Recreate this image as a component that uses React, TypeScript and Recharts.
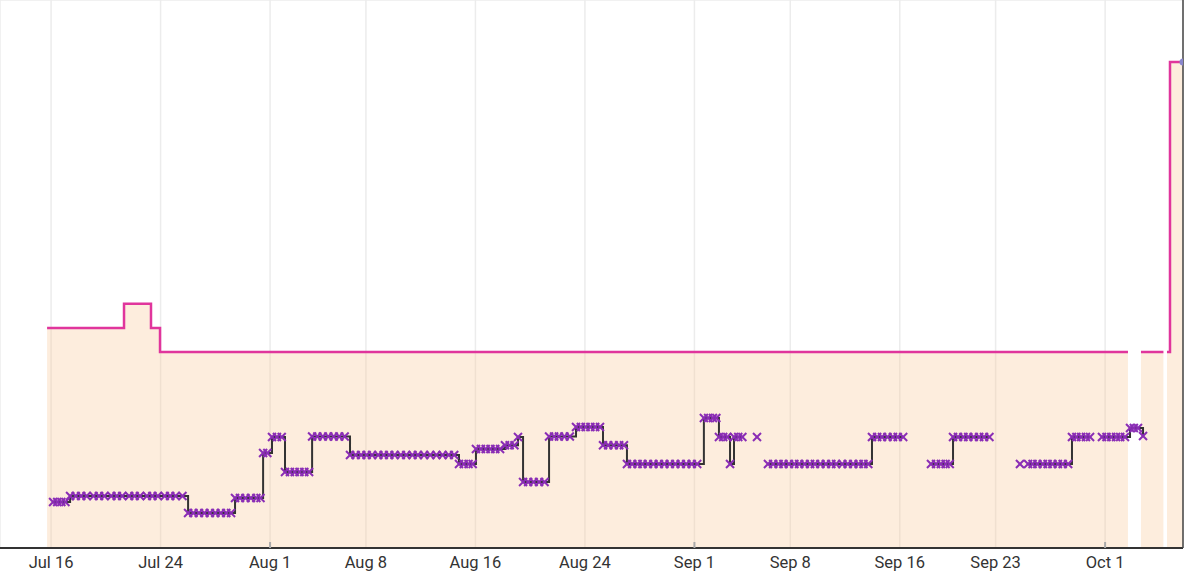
import { ComposedChart, Area, Line, XAxis, YAxis, CartesianGrid } from "recharts";

// days counted from Jul 16
const tickDays = [0, 8, 16, 23, 31, 39, 47, 54, 62, 69, 77];
const tickLabels = ["Jul 16", "Jul 24", "Aug 1", "Aug 8", "Aug 16", "Aug 24", "Sep 1", "Sep 8", "Sep 16", "Sep 23", "Oct 1"];
const monthStarts = [16, 47, 77];
const priceTicks = [10, 20, 30, 40];

// list price (pink step + shaded area)
const listDays = [-0.29, 5.33, 7.3, 7.96, 78.67, 78.7, 79.62, 81.26, 81.3, 81.52, 81.74, 82.69];
const listPrices = [18.1, 20.1, 18.1, 16.13, 16.13, null, 16.13, 16.13, null, 16.13, 40.0, 40.0];

// third-party offers (observation day, price)
const offerObs: [number, number | null][] = [
  [0.15, 3.79], [0.45, 3.79], [0.75, 3.79], [1.05, 3.79],
  [1.39, 4.28], [1.8, 4.28], [2.2, 4.28], [2.6, 4.28], [3.1, 4.28], [3.5, 4.28], [3.9, 4.28], [4.4, 4.28],
  [4.8, 4.28], [5.2, 4.28], [5.7, 4.28], [6.1, 4.28], [6.5, 4.28], [7.0, 4.28], [7.4, 4.28], [7.8, 4.28],
  [8.3, 4.28], [8.7, 4.28], [9.1, 4.28], [9.6, 4.28],
  [10.01, 2.88], [10.4, 2.88], [10.8, 2.88], [11.2, 2.88], [11.6, 2.88], [12.0, 2.88], [12.4, 2.88], [12.8, 2.88], [13.15, 2.88],
  [13.44, 4.12], [13.8, 4.12], [14.2, 4.12], [14.6, 4.12], [15.0, 4.12], [15.3, 4.12],
  [15.49, 7.82], [15.8, 7.82],
  [16.14, 9.14], [16.5, 9.14], [16.85, 9.14],
  [17.09, 6.26], [17.45, 6.26], [17.8, 6.26], [18.15, 6.26], [18.5, 6.26], [18.85, 6.26],
  [19.07, 9.18], [19.45, 9.18], [19.85, 9.18], [20.25, 9.18], [20.65, 9.18], [21.05, 9.18], [21.45, 9.18],
  [21.84, 7.65], [22.25, 7.65], [22.65, 7.65], [23.05, 7.65], [23.45, 7.65], [23.9, 7.65], [24.3, 7.65],
  [24.7, 7.65], [25.1, 7.65], [25.55, 7.65], [25.95, 7.65], [26.4, 7.65], [26.8, 7.65], [27.25, 7.65],
  [27.7, 7.65], [28.15, 7.65], [28.6, 7.65], [29.05, 7.65], [29.45, 7.65],
  [29.8, 6.91], [30.15, 6.91], [30.5, 6.91], [30.8, 6.91],
  [31.04, 8.15], [31.4, 8.15], [31.75, 8.15], [32.1, 8.15], [32.45, 8.15], [32.8, 8.15],
  [33.16, 8.45], [33.5, 8.45], [33.85, 8.45],
  [34.11, 9.14],
  [34.48, 5.43], [34.85, 5.43], [35.25, 5.43], [35.65, 5.43], [36.05, 5.43],
  [36.38, 9.18], [36.75, 9.18], [37.1, 9.18], [37.5, 9.18], [37.9, 9.18],
  [38.35, 9.96], [38.7, 9.96], [39.05, 9.96], [39.4, 9.96], [39.75, 9.96], [40.1, 9.96],
  [40.32, 8.45], [40.7, 8.45], [41.1, 8.45], [41.5, 8.45], [41.85, 8.45],
  [42.07, 6.91], [42.45, 6.91], [42.85, 6.91], [43.2, 6.91], [43.6, 6.91], [44.0, 6.91], [44.4, 6.91],
  [44.8, 6.91], [45.2, 6.91], [45.6, 6.91], [46.0, 6.91], [46.4, 6.91], [46.8, 6.91], [47.2, 6.91],
  [47.69, 10.7], [48.0, 10.7], [48.35, 10.7], [48.6, 10.7],
  [48.79, 9.14], [49.1, 9.14], [49.4, 9.14],
  [49.6, 6.91],
  [49.89, 9.14], [50.2, 9.14], [50.5, 9.14],
  [50.7, null],
  [51.57, 9.14],
  [51.7, null],
  [52.37, 6.91], [52.75, 6.91], [53.15, 6.91], [53.5, 6.91], [53.9, 6.91], [54.3, 6.91], [54.65, 6.91],
  [55.05, 6.91], [55.45, 6.91], [55.8, 6.91], [56.2, 6.91], [56.6, 6.91], [57.0, 6.91], [57.35, 6.91],
  [57.8, 6.91], [58.2, 6.91], [58.6, 6.91], [59.0, 6.91], [59.35, 6.91], [59.7, 6.91],
  [59.97, 9.14], [60.35, 9.14], [60.7, 9.14], [61.1, 9.14], [61.5, 9.14], [61.85, 9.14], [62.25, 9.14],
  [62.6, null],
  [64.28, 6.91], [64.65, 6.91], [65.0, 6.91], [65.35, 6.91], [65.65, 6.91],
  [65.89, 9.14], [66.25, 9.14], [66.65, 9.14], [67.0, 9.14], [67.4, 9.14], [67.8, 9.14], [68.15, 9.14], [68.55, 9.14],
  [68.9, null],
  [70.78, 6.91],
  [71.0, null],
  [71.37, 6.91], [71.7, 6.91], [72.05, 6.91], [72.45, 6.91], [72.8, 6.91], [73.15, 6.91], [73.55, 6.91], [73.9, 6.91], [74.3, 6.91],
  [74.58, 9.14], [74.9, 9.14], [75.25, 9.14], [75.6, 9.14], [75.9, 9.14],
  [76.3, null],
  [76.77, 9.14], [77.1, 9.14], [77.45, 9.14], [77.8, 9.14], [78.1, 9.14], [78.45, 9.14],
  [78.82, 9.88], [79.1, 9.88], [79.4, 9.88],
  [79.77, 9.22],
];

const listData = listDays.map((day, i) => ({ day, price: listPrices[i] }));
const offerData = offerObs.map(([day, price]) => ({ day, price }));

function Cross(props: any) {
  const { cx, cy, index } = props;
  if (cx == null || cy == null || props.payload?.price == null) return <g key={index} />;
  const s = 4;
  return (
    <g key={index} stroke="#8a2db5" strokeWidth={2}>
      <line x1={cx - s} y1={cy - s} x2={cx + s} y2={cy + s} />
      <line x1={cx - s} y1={cy + s} x2={cx + s} y2={cy - s} />
    </g>
  );
}

function EndDot(props: any) {
  const { cx, cy, index } = props;
  if (index !== listData.length - 1 || cy == null) return <g key={index} />;
  return <circle key={index} cx={cx} cy={cy} r={3.5} fill="#8a86cc" />;
}

function DateTick(props: any) {
  const { x, y, payload } = props;
  const i = tickDays.indexOf(payload.value);
  const isMonth = monthStarts.includes(payload.value);
  return (
    <g>
      {isMonth && <line x1={x} x2={x} y1={y - 14} y2={y - 8} stroke="#aaa" strokeWidth={2} />}
      <text x={x} y={y} dy={12} textAnchor="middle" fill="#333" fontSize={16.5} fontFamily="Roboto">
        {tickLabels[i]}
      </text>
    </g>
  );
}

export default function App() {
  return (
    <div style={{ position: "absolute", left: 0, top: 0, background: "#fff" }}>
      <ComposedChart width={1200} height={574} margin={{ top: 0, right: 0, left: 0, bottom: 0 }}>
        <CartesianGrid stroke="#ececec" strokeWidth={1.5} />
        <XAxis
          type="number"
          dataKey="day"
          domain={[-3.73, 82.69]}
          allowDataOverflow
          ticks={tickDays}
          tick={<DateTick />}
          tickLine={false}
          axisLine={{ stroke: "#333", strokeWidth: 2 }}
          height={26}
        />
        <YAxis
          orientation="right"
          width={17}
          domain={[0, 45.1]}
          ticks={priceTicks}
          allowDataOverflow
          tick={false}
          tickLine={false}
          axisLine={{ stroke: "#444", strokeWidth: 1.5 }}
        />
        <Area
          data={listData}
          dataKey="price"
          type="stepAfter"
          stroke="#e0359c"
          strokeWidth={2.5}
          fill="#f7c48f"
          fillOpacity={0.3}
          dot={<EndDot />}
          activeDot={false}
          isAnimationActive={false}
        />
        <Line
          data={offerData}
          dataKey="price"
          type="stepAfter"
          stroke="#333"
          strokeWidth={2}
          dot={<Cross />}
          activeDot={false}
          isAnimationActive={false}
        />
      </ComposedChart>
    </div>
  );
}
